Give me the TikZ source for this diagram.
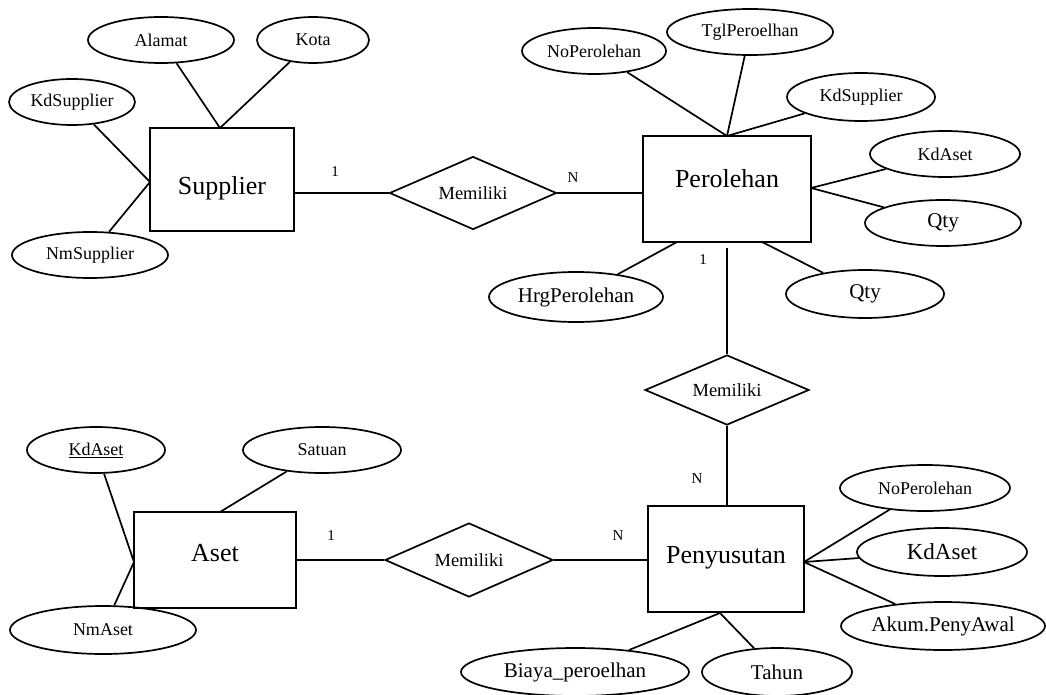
\documentclass[tikz,border=0pt]{standalone}
\usepackage{fontspec}
\setmainfont{Liberation Serif}
\usetikzlibrary{shapes.geometric}
\begin{document}
\begin{tikzpicture}[x=1pt,y=-1pt,line width=1.7pt,
  ent/.style={draw,rectangle,inner sep=0pt,font=\fontsize{26}{28}\selectfont},
  attr/.style={draw,ellipse,inner sep=0pt,font=\fontsize{18}{20}\selectfont},
  big/.style={font=\fontsize{21}{23}\selectfont},
  rel/.style={draw,diamond,aspect=2.3,inner sep=0pt,font=\fontsize{18.5}{20}\selectfont},
  card/.style={inner sep=0pt,font=\fontsize{15}{16}\selectfont},
  sz/.style 2 args={minimum width=#1pt,minimum height=#2pt}]
\useasboundingbox (0,0) rectangle (1046,695);

% entities
\node[ent,sz={144}{103},text height=31pt,text depth=0pt] (sup) at (222,179.5) {Supplier};
\node[ent,sz={168}{106},text height=10pt,text depth=14pt] (per) at (727,189) {Perolehan};
\node[ent,sz={162}{96},text height=12pt,text depth=10pt] (ase) at (215,560) {Aset};
\node[ent,sz={156}{106},text height=16pt,text depth=8pt] (pen) at (726,559) {Penyusutan};

% relationships
\node[rel,sz={167}{73}] (rel1) at (473,193) {Memiliki};
\node[rel,sz={164}{70}] (rel2) at (727,390) {Memiliki};
\node[rel,sz={168}{74}] (rel3) at (469,560) {Memiliki};

% cardinalities
\node[card] (c1) at (335,172) {1};
\node[card] (c2) at (573,178) {N};
\node[card] (c3) at (703,260) {1};
\node[card] (c4) at (697,479) {N};
\node[card] (c5) at (331,536) {1};
\node[card] (c6) at (618,536) {N};

% Supplier attributes
\node[attr,sz={146}{46}] (alamat) at (161,40) {Alamat};
\node[attr,sz={112}{46}] (kota) at (313,40) {Kota};
\node[attr,sz={126}{46}] (kdsup1) at (72,102) {KdSupplier};
\node[attr,sz={156}{46}] (nmsup) at (90,255) {NmSupplier};
\coordinate (supT) at (220,128);
\coordinate (supL) at (150,182);
\draw (alamat) -- (supT);
\draw (kota) -- (supT);
\draw (kdsup1) -- (supL);
\draw (nmsup) -- (supL);

% Perolehan attributes
\node[attr,sz={144}{46}] (noper1) at (594,51) {NoPerolehan};
\node[attr,sz={166}{46}] (tgl) at (750,32) {TglPeroelhan};
\node[attr,sz={148}{48}] (kdsup2) at (861,97) {KdSupplier};
\node[attr,sz={150}{46}] (kdaset1) at (945,154) {KdAset};
\node[attr,big,sz={156}{46}] (qty1) at (943,223) {Qty};
\node[attr,big,sz={158}{48}] (qty2) at (865,294) {Qty};
\node[attr,big,sz={174}{50}] (hrg) at (576,297) {HrgPerolehan};
\coordinate (perT) at (727,136);
\coordinate (perR) at (811,188);
\coordinate (perB1) at (677,242);
\coordinate (perB2) at (762,242);
\draw (noper1) -- (perT);
\draw (tgl) -- (perT);
\draw (kdsup2) -- (perT);
\draw (kdaset1) -- (perR);
\draw (qty1) -- (perR);
\draw (hrg) -- (perB1);
\draw (qty2) -- (perB2);

% Aset attributes
\node[attr,sz={138}{46}] (kdaset0) at (96,450) {\underline{KdAset}};
\node[attr,sz={158}{46}] (satuan) at (322,450) {Satuan};
\node[attr,sz={186}{48}] (nmaset) at (103,630) {NmAset};
\coordinate (aseL) at (134,562);
\coordinate (aseT) at (220,512);
\draw (kdaset0) -- (aseL);
\draw (nmaset) -- (aseL);
\draw (satuan) -- (aseT);

% Penyusutan attributes
\node[attr,sz={170}{46}] (noper2) at (925,488) {NoPerolehan};
\node[attr,sz={170}{48},font=\fontsize{23}{25}\selectfont] (kdaset2) at (942,552) {KdAset};
\node[attr,big,sz={204}{48}] (akum) at (943,626) {Akum.PenyAwal};
\node[attr,big,sz={150}{48}] (tahun) at (777,672) {Tahun};
\node[attr,big,sz={228}{48}] (biaya) at (575,672) {Biaya\_peroelhan};
\coordinate (penR) at (804,562);
\coordinate (penB) at (720,613);
\draw (noper2) -- (penR);
\draw (kdaset2) -- (penR);
\draw (akum) -- (penR);
\draw (biaya) -- (penB);
\draw (tahun) -- (penB);

% relationship connectors
\draw (rel1.west) -- (rel1.west -| sup.east);
\draw (rel1.east) -- (rel1.east -| per.west);
\draw[shorten <=5pt] (per.south) -- (rel2.north);
\draw (rel2.south) -- (rel2.south |- pen.north);
\draw (rel3.west) -- (rel3.west -| ase.east);
\draw (rel3.east) -- (rel3.east -| pen.west);
\end{tikzpicture}
\end{document}
